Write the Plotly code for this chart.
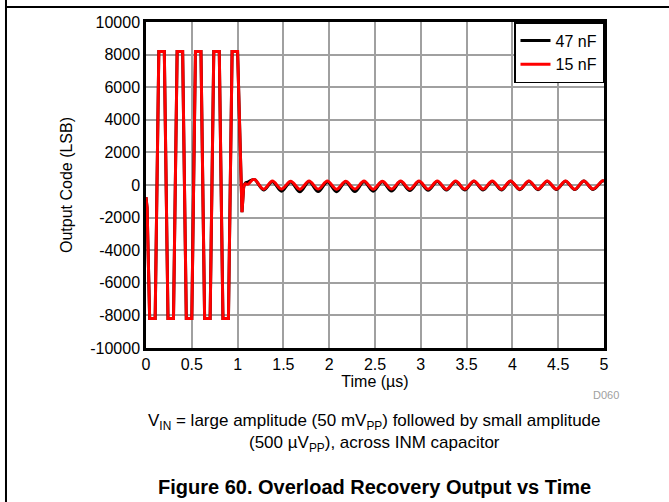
import plotly.graph_objects as go

# overload part (clipped large signal), same for both capacitors
t_overload = [0, 0.012, 0.04, 0.10, 0.14, 0.20, 0.24, 0.30, 0.34, 0.40, 0.44, 0.50,
              0.54, 0.60, 0.64, 0.70, 0.74, 0.80, 0.84, 0.90, 0.94, 1.00, 1.048, 1.066]
code_overload = [-750, -1400, -8192, -8192, 8192, 8192, -8192, -8192, 8192, 8192, -8192, -8192,
                 8192, 8192, -8192, -8192, 8192, 8192, -8192, -8192, 8192, 8192, -1670, -130]

# recovery / small signal ringing (peaks and troughs)
t_ring = [1.066, 1.084, 1.11, 1.165, 1.19, 1.285, 1.38, 1.48, 1.58, 1.68, 1.78, 1.88, 1.98,
          2.08, 2.18, 2.28, 2.38, 2.48, 2.58, 2.68, 2.78, 2.88, 2.98, 3.08, 3.18, 3.28, 3.38,
          3.48, 3.58, 3.68, 3.78, 3.88, 3.98, 4.08, 4.18, 4.28, 4.38, 4.48, 4.58, 4.68, 4.78,
          4.88, 4.98, 5.0]
code_47nF = [-130, 120, 170, 330, 320, -300, 200, -380, 190, -420, 200, -400, 190,
             -410, 190, -400, 200, -380, 200, -370, 210, -340, 210, -320, 220, -310, 220,
             -300, 230, -300, 220, -300, 230, -290, 230, -290, 230, -280, 230, -280, 240,
             -270, 240, 235]
code_15nF = [-130, 80, 40, 330, 330, -260, 240, -250, 230, -260, 240, -250, 240,
             -260, 230, -250, 240, -260, 230, -250, 240, -250, 240, -250, 240, -260, 240,
             -250, 250, -250, 240, -260, 250, -250, 240, -250, 250, -250, 240, -260, 250,
             -250, 250, 245]

x_ticks = [0, 0.5, 1, 1.5, 2, 2.5, 3, 3.5, 4, 4.5, 5]
y_ticks = [-10000, -8000, -6000, -4000, -2000, 0, 2000, 4000, 6000, 8000, 10000]
y_labels = ["-10000", "-8000", "-6000", "-4000", "-2000", "0", "2000", "4000", "6000", "8000", "10000"]

font = "Liberation Sans, Arial, sans-serif"

fig = go.Figure()
series = [("47 nF", "black", code_47nF), ("15 nF", "#ff0000", code_15nF)]
for name, color, ring in series:
    fig.add_trace(go.Scatter(x=t_overload, y=code_overload, mode="lines", name=name,
                             legendgroup=name, showlegend=True,
                             line=dict(color=color, width=3)))
    fig.add_trace(go.Scatter(x=t_ring, y=ring, mode="lines", name=name,
                             legendgroup=name, showlegend=False,
                             line=dict(color=color, width=3, shape="spline", smoothing=1)))

fig.update_layout(
    width=669, height=502,
    margin=dict(l=146, r=65, t=22, b=154),
    paper_bgcolor="white", plot_bgcolor="white",
    font=dict(family=font, size=16, color="black"),
    showlegend=True,
    legend=dict(x=1, y=1, xanchor="right", yanchor="top", tracegroupgap=0,
                bgcolor="white", bordercolor="black", borderwidth=1.5,
                font=dict(size=16), entrywidth=78),
)
fig.update_xaxes(range=[0, 5], tickvals=x_ticks, showgrid=True, gridcolor="#a0a0a0", gridwidth=1.5,
                 zeroline=False, showline=True, linecolor="black", linewidth=2.5, mirror=True,
                 ticks="", title=dict(text="Time (µs)", font=dict(size=16), standoff=2))
fig.update_yaxes(range=[-10000, 10000], tickvals=y_ticks, ticktext=y_labels, showgrid=True,
                 gridcolor="#a0a0a0", gridwidth=1.5, zeroline=False, showline=True,
                 linecolor="black", linewidth=2.5, mirror=True, ticks="",
                 title=dict(text="Output Code (LSB)", font=dict(size=16), standoff=14))

# page frame
fig.add_shape(type="line", xref="paper", yref="paper", x0=-0.3057, x1=-0.3057, y0=1.07, y1=-0.48,
              line=dict(color="black", width=2))
fig.add_shape(type="line", xref="paper", yref="paper", x0=-0.3057, x1=1.15, y0=1.046, y1=1.046,
              line=dict(color="black", width=2))

fig.add_annotation(text="D060", xref="paper", yref="paper", x=1.005, y=-0.145,
                   xanchor="center", yanchor="middle", showarrow=False,
                   font=dict(size=11, color="#a0a0a0"))
fig.add_annotation(text="V<sub>IN</sub> = large amplitude (50 mV<sub>PP</sub>) followed by small amplitude"
                        "<br>(500 µV<sub>PP</sub>), across INM capacitor",
                   xref="paper", yref="paper", x=0.498, y=-0.261, xanchor="center", yanchor="middle",
                   showarrow=False, font=dict(size=17))
fig.add_annotation(text="<b>Figure 60. Overload Recovery Output vs Time</b>",
                   xref="paper", yref="paper", x=0.498, y=-0.4264, xanchor="center", yanchor="middle",
                   showarrow=False, font=dict(size=20))

fig.write_html("out.html", config={"displayModeBar": False},
               post_script="document.body.style.margin='0';")
